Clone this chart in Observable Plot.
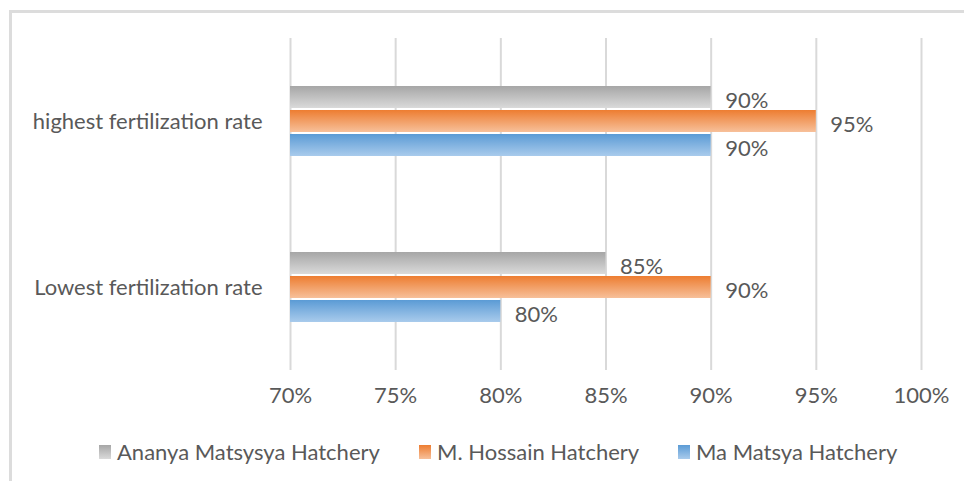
<!DOCTYPE html>
<html>
<head>
<meta charset="utf-8">
<script src="https://cdn.jsdelivr.net/npm/d3@7"></script>
<script src="https://cdn.jsdelivr.net/npm/@observablehq/plot@0.6"></script>
<style>
  html, body { margin: 0; padding: 0; background: #fff; }
  #wrap { position: relative; width: 964px; height: 481px; overflow: hidden; font-family: Lato, "Open Sans", sans-serif; }
  #frame { position: absolute; left: 9px; top: 10px; width: 970px; height: 500px; border: 3px solid #dcdcdc; box-sizing: border-box; }
  #chart { position: absolute; left: 0; top: 0; }
  #legend { position: absolute; left: 0; top: 438px; width: 964px; height: 30px; font-size: 22px; color: #595959; }
  #legend .item { position: absolute; top: 0; display: flex; align-items: center; gap: 6px; white-space: nowrap; }
  #legend .sw { width: 12px; height: 14px; display: inline-block; }
</style>
</head>
<body>
<div id="wrap">
  <div id="frame"></div>
  <div id="chart"></div>
  <div id="legend"></div>
</div>
<script>
const categories = ["highest fertilization rate", "Lowest fertilization rate"];
const series = ["Ananya Matsysya Hatchery", "M. Hossain Hatchery", "Ma Matsya Hatchery"];
const highestValues = [0.90, 0.95, 0.90];
const lowestValues = [0.85, 0.90, 0.80];
const tickValues = [0.70, 0.75, 0.80, 0.85, 0.90, 0.95, 1.00];
const legendLefts = [99, 419, 678];
const gradients = [
  {id: "gGray", top: "#a6a6a6", bottom: "#dadada"},
  {id: "gOrange", top: "#ed7d31", bottom: "#f7c09a"},
  {id: "gBlue", top: "#5b9bd5", bottom: "#a9cbec"}
];

const data = [];
series.forEach((s, i) => {
  data.push({category: categories[0], series: s, value: highestValues[i], fill: `url(#${gradients[i].id})`});
  data.push({category: categories[1], series: s, value: lowestValues[i], fill: `url(#${gradients[i].id})`});
});

const fmt = d => Math.round(d * 100) + "%";

const chart = Plot.plot({
  width: 964,
  height: 420,
  marginLeft: 290,
  marginRight: 43,
  marginTop: 38,
  marginBottom: 50,
  style: {fontFamily: "Lato, 'Open Sans', sans-serif", fontSize: "22px", color: "#595959", background: "transparent"},
  x: {domain: [0.70, 1.00], ticks: tickValues, tickFormat: fmt, label: null},
  fy: {domain: categories, label: null, padding: 0},
  y: {domain: series, axis: null, paddingInner: 0.1, paddingOuter: 1.9},
  color: {type: "identity"},
  marks: [
    Plot.gridX(tickValues, {stroke: "#d9d9d9", strokeOpacity: 1, strokeWidth: 2}),
    Plot.barX(data, {fy: "category", y: "series", x1: 0.70, x2: "value", fill: "fill"}),
    Plot.text(data, {fy: "category", y: "series", x: "value", text: d => fmt(d.value), dx: 14, dy: 3, textAnchor: "start", fill: "#595959", fontSize: 22}),
    Plot.axisX({tickValues: tickValues, tickFormat: fmt, tickSize: 0, tickPadding: 17, fontSize: 22, label: null}),
    Plot.axisFy({anchor: "left", tickSize: 0, tickPadding: 28, fontSize: 22, label: null})
  ]
});

const ns = "http://www.w3.org/2000/svg";
const defs = document.createElementNS(ns, "defs");
gradients.forEach(g => {
  const lg = document.createElementNS(ns, "linearGradient");
  lg.setAttribute("id", g.id);
  lg.setAttribute("x1", "0"); lg.setAttribute("y1", "0");
  lg.setAttribute("x2", "0"); lg.setAttribute("y2", "1");
  [[0, g.top], [1, g.bottom]].forEach(([o, c]) => {
    const st = document.createElementNS(ns, "stop");
    st.setAttribute("offset", o);
    st.setAttribute("stop-color", c);
    lg.appendChild(st);
  });
  defs.appendChild(lg);
});
chart.insertBefore(defs, chart.firstChild);
document.getElementById("chart").appendChild(chart);

const legend = document.getElementById("legend");
series.forEach((s, i) => {
  const item = document.createElement("div");
  item.className = "item";
  item.style.left = legendLefts[i] + "px";
  const sw = document.createElement("span");
  sw.className = "sw";
  sw.style.background = `linear-gradient(${gradients[i].top}, ${gradients[i].bottom})`;
  const t = document.createElement("span");
  t.textContent = s;
  item.appendChild(sw); item.appendChild(t);
  legend.appendChild(item);
});
</script>
</body>
</html>
